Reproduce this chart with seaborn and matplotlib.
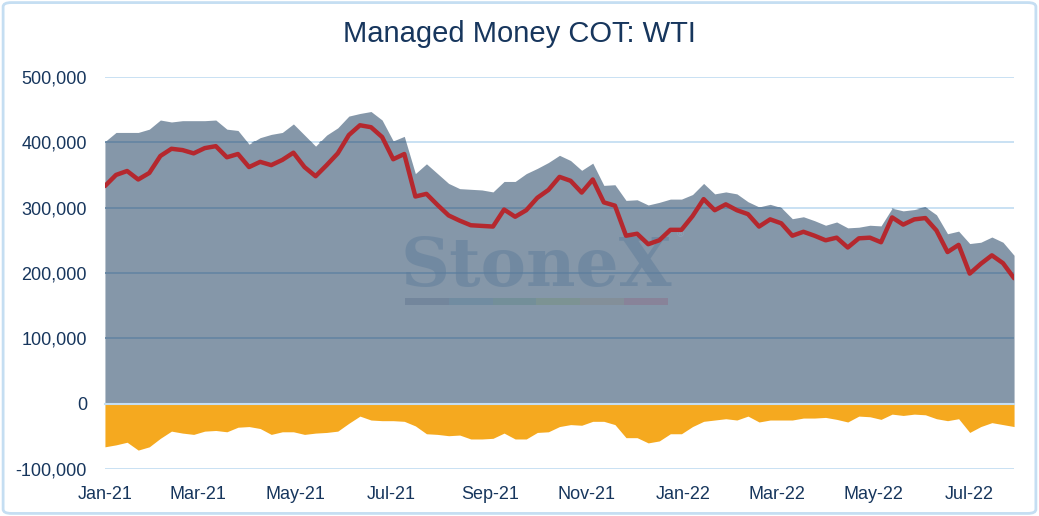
import seaborn as sns
import pandas as pd
import matplotlib as mpl
import matplotlib.pyplot as plt
from matplotlib.patches import FancyBboxPatch, Rectangle
from matplotlib.ticker import FuncFormatter
import matplotlib.dates as mdates
import numpy as np

# Weekly Managed Money positions in WTI, thousands of contracts
dates = pd.date_range("2021-01-05", periods=83, freq="7D")

long_k = [401, 415, 415, 415, 420, 434, 431, 433, 433, 433,
          434, 420, 418, 397, 407, 412, 415, 428, 411, 394,
          411, 422, 440, 444, 447, 434, 402, 409, 352, 367,
          352, 337, 329, 328, 327, 324, 340, 340, 352, 360,
          369, 380, 372, 357, 368, 334, 335, 311, 312, 304,
          308, 313, 313, 320, 337, 321, 324, 321, 309, 301,
          305, 300, 283, 286, 280, 273, 278, 269, 270, 273,
          272, 299, 295, 297, 301, 289, 260, 264, 245, 247,
          255, 247, 227]

short_k = [-66, -63, -59, -71, -66, -53, -42, -45, -47, -42,
           -41, -43, -36, -35, -38, -47, -43, -43, -47, -45,
           -44, -42, -30, -19, -25, -26, -26, -27, -34, -46,
           -47, -49, -48, -54, -54, -53, -45, -54, -54, -44,
           -43, -35, -32, -33, -27, -27, -32, -52, -52, -60,
           -57, -46, -46, -35, -27, -25, -23, -25, -19, -28,
           -25, -25, -25, -22, -22, -21, -24, -28, -19, -20,
           -24, -16, -18, -16, -17, -23, -26, -23, -44, -35,
           -29, -32, -35]

net_k = [333, 350, 356, 343, 353, 379, 390, 388, 383, 391,
         394, 377, 382, 362, 370, 365, 373, 384, 362, 348,
         365, 383, 411, 426, 423, 408, 374, 382, 317, 321,
         304, 288, 280, 273, 272, 271, 297, 286, 296, 315,
         327, 347, 341, 323, 343, 308, 303, 257, 260, 244,
         250, 266, 266, 287, 313, 296, 305, 296, 290, 271,
         282, 276, 257, 263, 257, 250, 254, 239, 253, 254,
         247, 285, 274, 282, 284, 265, 232, 243, 199, 214,
         227, 215, 192]

y_ticks = [-100000, 0, 100000, 200000, 300000, 400000, 500000]
title = "Managed Money COT: WTI"

df = pd.DataFrame({
    "Date": dates,
    "Long": np.array(long_k) * 1000,
    "Short": np.array(short_k) * 1000,
    "Net": np.array(net_k) * 1000,
})

NAVY = "#17365D"
GRID = "#C5DEF2"
GRAY = "#8597A9"
ORANGE = "#F5A91F"
RED = "#B5282E"

sns.set_theme(style="white")
plt.rcParams["font.family"] = ["Liberation Sans", "DejaVu Sans"]

fig = plt.figure(figsize=(10.39, 5.16), dpi=100)
ax = fig.add_axes([0.101, 0.091, 0.875, 0.760])

# long and short areas
long_fill = ax.fill_between(df["Date"], 0, df["Long"], color=GRAY, lw=0, zorder=1)
ax.fill_between(df["Date"], 0, df["Short"], color=ORANGE, lw=0, zorder=1)

# net line
sns.lineplot(data=df, x="Date", y="Net", color=RED, linewidth=3.2, ax=ax, zorder=3)

# gridlines: light blue, darker where they run through the gray area
for yv in y_ticks:
    if yv == 0:
        continue
    ax.axhline(yv, color=GRID, lw=1.3, zorder=0.5)
    if yv > 0:
        ln = ax.axhline(yv, color="#6686A3", lw=1.3, zorder=1.5)
        ln.set_clip_path(long_fill.get_paths()[0], ax.transData)

ax.set_ylim(-100000, 500000)
ax.set_xlim(df["Date"].iloc[0], df["Date"].iloc[-1])
ax.set_yticks(y_ticks)
ax.yaxis.set_major_formatter(FuncFormatter(lambda v, p: f"{v:,.0f}"))

xt = pd.date_range("2021-01-05", periods=10, freq=pd.DateOffset(months=2))
ax.set_xticks(xt)
ax.xaxis.set_major_formatter(mdates.DateFormatter("%b-%y"))

for s in ["top", "right", "left"]:
    ax.spines[s].set_visible(False)
ax.spines["bottom"].set_position(("data", 0))
ax.spines["bottom"].set_color(GRID)
ax.spines["bottom"].set_linewidth(1.5)
ax.spines["bottom"].set_zorder(4)

ax.tick_params(axis="x", colors=GRID, direction="out", length=4, width=1.3,
               pad=55, labelcolor=NAVY, labelsize=13)
ax.tick_params(axis="y", length=0, pad=13, labelcolor=NAVY, labelsize=13)
ax.set_xlabel("")
ax.set_ylabel("")

# watermark
ax.text(0.474, 0.515, "StoneX", transform=ax.transAxes, ha="center", va="center",
        fontsize=49, family="DejaVu Serif", fontweight="bold", color="#5E7C9A",
        alpha=0.5, zorder=2)
ax.text(0.633, 0.6, "®", transform=ax.transAxes, ha="center", va="center",
        fontsize=7, color="#8FA3B8", zorder=2)
bar_cols = ["#6F8299", "#6D8AA0", "#6F8E96", "#7A938E", "#838D96", "#8A7E96"]
bw = (0.619 - 0.33) / len(bar_cols)
for k, c in enumerate(bar_cols):
    ax.add_patch(Rectangle((0.33 + k * bw, 0.418), bw, 0.018, transform=ax.transAxes,
                           color=c, alpha=0.8, lw=0, zorder=2))

fig.text(0.5, 0.934, title, ha="center", va="center", fontsize=21, color=NAVY)

fig.patches.append(FancyBboxPatch((0.003, 0.005), 0.994, 0.99,
                                  boxstyle="round,pad=0,rounding_size=0.008",
                                  transform=fig.transFigure, fill=False,
                                  edgecolor=GRID, linewidth=2))

fig.savefig("out.png", dpi=100)
